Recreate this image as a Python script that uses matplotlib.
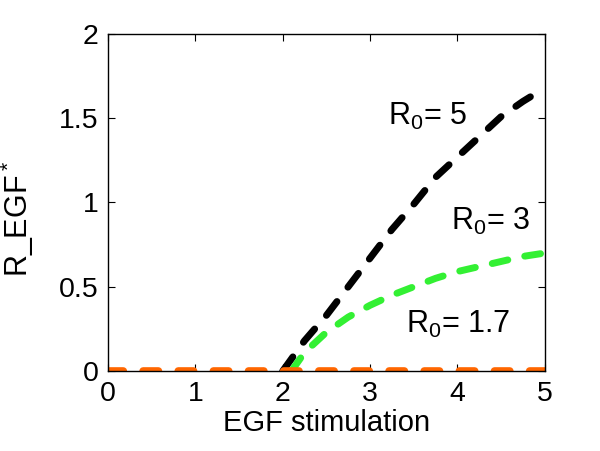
import matplotlib
matplotlib.use('Agg')
import matplotlib.pyplot as plt

plt.rcParams['font.family'] = ['Liberation Sans', 'DejaVu Sans']
plt.rcParams['mathtext.default'] = 'regular'

# EGF stimulation grid for the R0 = 1.7 branch (stays at zero)
egf_low = [0, 0.5, 1, 1.5, 2, 2.5, 3, 3.5, 4, 4.5, 5]
r_low = [0, 0, 0, 0, 0, 0, 0, 0, 0, 0, 0]

# R0 = 5 branch
egf_5 = [2.0, 2.25, 2.5, 2.75, 3.0, 3.25, 3.5, 3.75, 4.0, 4.25, 4.5, 4.75, 5.0]
r_5 = [0, 0.18, 0.33, 0.50, 0.67, 0.84, 0.99, 1.15, 1.27, 1.39, 1.51, 1.60, 1.68]

# R0 = 3 branch
egf_3 = [2.1, 2.25, 2.5, 2.75, 3.0, 3.25, 3.5, 3.75, 4.0, 4.25, 4.5, 4.75, 5.0]
r_3 = [0, 0.11, 0.23, 0.32, 0.39, 0.45, 0.50, 0.55, 0.59, 0.62, 0.65, 0.68, 0.70]

labels = ['R$_0$= 5', 'R$_0$= 3', 'R$_0$= 1.7']
label_pos = [(3.20, 1.46), (3.93, 0.84), (3.41, 0.225)]

fig = plt.figure(figsize=(6.0, 4.51), dpi=100)
ax = fig.add_axes([0.18, 0.1774, 0.728, 0.7472])

ax.plot(egf_5, r_5, color='black', lw=5, dashes=(2.5, 2.6), dash_capstyle='round')
ax.plot(egf_3, r_3, color='#33f033', lw=5, dashes=(2.3, 2.5), dash_capstyle='round')
ax.plot(egf_low, r_low, color='#ff6600', lw=5.5, dashes=(2.0, 2.6), dash_capstyle='round')

for txt, (x, y) in zip(labels, label_pos):
    ax.text(x, y, txt, fontsize=22, ha='left', va='baseline')

ax.set_xlim(0, 5)
ax.set_ylim(0, 2)
ax.set_xticks([0, 1, 2, 3, 4, 5])
ax.set_yticks([0, 0.5, 1, 1.5, 2])
ax.set_yticklabels(['0', '0.5', '1', '1.5', '2'])
ax.tick_params(direction='in', length=5, width=0.8, labelsize=20.5,
               top=True, right=True, pad=7)
for s in ax.spines.values():
    s.set_linewidth(1.0)

ax.set_xlabel('EGF stimulation', fontsize=21, labelpad=2)
ax.set_ylabel('R_EGF$^*$', fontsize=22)
ax.yaxis.set_label_coords(-0.165, 0.45)

fig.savefig('out.png', dpi=100)
